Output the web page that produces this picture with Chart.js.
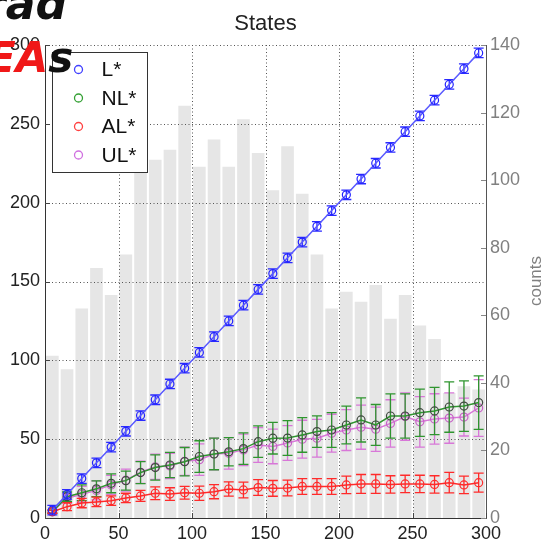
<!DOCTYPE html>
<html>
<head>
<meta charset="utf-8">
<script src="https://cdn.jsdelivr.net/npm/chart.js@4.4.1/dist/chart.umd.min.js"></script>
<style>
  html, body { margin: 0; padding: 0; background: #fff; }
  #wrap { position: relative; width: 544px; height: 542px; overflow: hidden; }
  canvas { display: block; }
  .ink { position: absolute; font-family: "DejaVu Sans", sans-serif; font-weight: bold; font-style: italic; white-space: nowrap; line-height: 1; }
</style>
</head>
<body>
<div id="wrap">
  <canvas id="c" width="544" height="542"></canvas>
  <div class="ink" style="left:-16px; top:-18px; font-size:44px; color:#111;">rad</div>
  <div class="ink" style="left:-13px; top:37px; font-size:42px; color:#f01818;">EA<span style="color:#111;">s</span></div>
</div>
<script>
// Bin centres shared by the histogram and the four state curves
const binCenters = [5, 15, 25, 35, 45, 55, 65, 75, 85, 95, 105, 115, 125, 135, 145,
                    155, 165, 175, 185, 195, 205, 215, 225, 235, 245, 255, 265, 275, 285, 295];

// Histogram counts (right axis)
const counts = [48, 44, 62, 74, 66, 78, 107, 106, 109, 122, 104, 112, 104, 118, 108,
                97, 110, 96, 78, 62, 67, 64, 69, 59, 66, 57, 53, 37, 39, 38];

// State means (left axis)
const L  = [5, 15, 25, 35, 45, 55, 65, 75, 85, 95, 105, 115, 125, 135, 145,
            155, 165, 175, 185, 195, 205, 215, 225, 235, 245, 255, 265, 275, 285, 295];
const NL = [4, 13.5, 16, 18.5, 22, 23.7, 28.8, 32, 33.6, 35.7, 39, 40.6, 42, 44, 48.4,
            50.6, 50.7, 52.7, 54.8, 55.8, 59, 62.2, 59, 64.7, 64.7, 66.8, 67.9, 70.4, 71, 73.2];
const AL = [4, 7.2, 9.5, 10.2, 11, 12.7, 14, 15.7, 15.2, 16, 15.7, 16.7, 18.4, 17.8, 19.3,
            18.8, 19, 20, 20, 20, 21, 21.6, 21.6, 21.3, 21.6, 21.6, 21.3, 22.4, 21, 22.4];
const UL = [4, 12.5, 15, 17.5, 21, 24, 29, 32.5, 33, 36, 37, 40.6, 41, 43.2, 46.3,
            45.4, 47.6, 50, 50.6, 53.8, 55.8, 57.6, 56.3, 60, 64.3, 61, 62.8, 63.4, 64, 69.8];

// Half-widths of the error bars
const L_err  = [3, 3, 3, 3, 3, 3, 3, 3, 3, 3, 3, 3, 3, 3, 3,
                3, 3, 3, 3, 3, 3, 3, 3, 3, 3, 3, 3, 3, 3, 3];
const NL_err = [1, 3, 5, 5, 6, 6, 7, 8, 8, 9, 10, 10, 9, 10, 10,
                10, 11, 11, 10, 11, 12, 14, 13, 14, 14, 15, 15, 16, 16, 17];
const AL_err = [1, 2.5, 3, 3, 3, 3, 3.5, 4, 4, 4, 4.5, 4.5, 4.5, 5, 5,
                5, 5, 5, 5, 5, 5.5, 6, 6, 5.5, 5.5, 5.5, 5.5, 6.5, 5.5, 6];
const UL_err = [1, 3, 5, 6, 6, 7, 7, 8, 8, 9, 10, 10, 10, 10, 11,
                11, 11, 12, 12, 12, 13, 14, 14, 15, 15, 16, 16, 16, 12, 18];

// Axis ticks
const xTicks = [0, 50, 100, 150, 200, 250, 300];
const yTicks = [0, 50, 100, 150, 200, 250, 300];
const countTicks = [0, 20, 40, 60, 80, 100, 120, 140];

const titleText = 'States';
const countsLabel = 'counts';

const pts = vals => vals.map((v, i) => ({ x: binCenters[i], y: v }));

// Dotted grid drawn over the histogram but under the curves
const dottedGrid = {
  id: 'dottedGrid',
  afterDatasetDraw(chart, args) {
    if (args.index !== 0) return;
    const { ctx, chartArea: a, scales: { x, y } } = chart;
    ctx.save();
    ctx.strokeStyle = '#555';
    ctx.lineWidth = 1;
    ctx.setLineDash([1, 2.5]);
    ctx.beginPath();
    x.ticks.forEach(t => {
      if (t.value > x.min && t.value < x.max) {
        const px = Math.round(x.getPixelForValue(t.value)) + 0.5;
        ctx.moveTo(px, a.top); ctx.lineTo(px, a.bottom);
      }
    });
    y.ticks.forEach(t => {
      if (t.value > y.min) {
        const py = Math.round(y.getPixelForValue(t.value)) + 0.5;
        ctx.moveTo(a.left, py); ctx.lineTo(a.right, py);
      }
    });
    ctx.stroke();
    ctx.restore();
  }
};

// Vertical error bars with caps, drawn under each curve's markers
const errorBars = {
  id: 'errorBars',
  beforeDatasetDraw(chart, args) {
    const ds = chart.data.datasets[args.index];
    if (!ds.errors) return;
    const ctx = chart.ctx;
    const ys = chart.scales[ds.yAxisID];
    const xs = chart.scales.x;
    ctx.save();
    ctx.strokeStyle = ds.errorColor;
    ctx.lineWidth = 1.3;
    ctx.beginPath();
    ds.data.forEach((p, i) => {
      const px = xs.getPixelForValue(p.x);
      const top = ys.getPixelForValue(p.y + ds.errors[i]);
      const bot = ys.getPixelForValue(p.y - ds.errors[i]);
      ctx.moveTo(px, top); ctx.lineTo(px, bot);
      ctx.moveTo(px - 5, top); ctx.lineTo(px + 5, top);
      ctx.moveTo(px - 5, bot); ctx.lineTo(px + 5, bot);
    });
    ctx.stroke();
    ctx.restore();
  }
};

// Title, right-axis caption, inward ticks and the boxed legend
const decorations = {
  id: 'decorations',
  afterDraw(chart) {
    const { ctx, chartArea: a, scales: { x, y, y2 } } = chart;
    ctx.save();
    ctx.fillStyle = '#222';
    ctx.font = '22px "Liberation Sans", Arial, sans-serif';
    ctx.textAlign = 'center';
    ctx.textBaseline = 'alphabetic';
    ctx.fillText(titleText, (a.left + a.right) / 2, 30);

    ctx.save();
    ctx.translate(541, 281);
    ctx.rotate(-Math.PI / 2);
    ctx.fillStyle = '#808080';
    ctx.font = '17px "Liberation Sans", Arial, sans-serif';
    ctx.fillText(countsLabel, 0, 0);
    ctx.restore();

    // inward tick marks
    ctx.lineWidth = 1;
    ctx.strokeStyle = '#444';
    ctx.beginPath();
    x.ticks.forEach(t => {
      const px = Math.round(x.getPixelForValue(t.value)) + 0.5;
      ctx.moveTo(px, a.bottom); ctx.lineTo(px, a.bottom - 5);
    });
    y.ticks.forEach(t => {
      const py = Math.round(y.getPixelForValue(t.value)) + 0.5;
      ctx.moveTo(a.left, py); ctx.lineTo(a.left + 5, py);
    });
    ctx.stroke();
    ctx.strokeStyle = '#888';
    ctx.beginPath();
    y2.ticks.forEach(t => {
      const py = Math.round(y2.getPixelForValue(t.value)) + 0.5;
      ctx.moveTo(a.right, py); ctx.lineTo(a.right - 5, py);
    });
    ctx.stroke();

    // legend box
    const bx = a.left + 7.5, by = a.top + 7.5, bw = 95, bh = 120;
    ctx.fillStyle = '#fff';
    ctx.fillRect(bx, by, bw, bh);
    ctx.strokeStyle = '#333';
    ctx.lineWidth = 1;
    ctx.strokeRect(bx, by, bw, bh);
    ctx.font = '21px "Liberation Sans", Arial, sans-serif';
    ctx.textAlign = 'left';
    ctx.textBaseline = 'middle';
    chart.data.datasets.filter(d => d.legendColor).forEach((d, i) => {
      const cy = by + 17 + i * 28.5;
      ctx.beginPath();
      ctx.strokeStyle = d.legendColor;
      ctx.lineWidth = 1.3;
      ctx.arc(bx + 26, cy, 4, 0, Math.PI * 2);
      ctx.stroke();
      ctx.fillStyle = '#111';
      ctx.fillText(d.label, bx + 49, cy + 1);
    });
    ctx.restore();
  }
};

const lineSet = (label, vals, errs, line, marker, err, legend, order) => ({
  type: 'line',
  label,
  data: pts(vals),
  errors: errs,
  errorColor: err,
  legendColor: legend,
  yAxisID: 'y',
  borderColor: line,
  borderWidth: 1.5,
  pointStyle: 'circle',
  pointRadius: 4,
  pointBorderWidth: 1.2,
  pointBorderColor: marker,
  pointBackgroundColor: 'rgba(0,0,0,0)',
  tension: 0,
  order
});

const tickFont = { size: 18, family: '"Liberation Sans", Arial, sans-serif' };

new Chart(document.getElementById('c'), {
  data: {
    datasets: [
      {
        type: 'bar',
        label: 'counts',
        data: pts(counts),
        yAxisID: 'y2',
        backgroundColor: '#e6e6e6',
        borderWidth: 0,
        barPercentage: 0.86,
        categoryPercentage: 1,
        order: 10
      },
      lineSet('L*',  L,  L_err,  '#5a5aff', '#2222ff', '#2a2aff', '#4040ff', 1),
      lineSet('NL*', NL, NL_err, '#2f952f', '#3f4a3f', '#2f952f', '#33a033', 3),
      lineSet('AL*', AL, AL_err, '#ff2a2a', '#ff2a2a', '#ff2a2a', '#ff4040', 2),
      lineSet('UL*', UL, UL_err, '#d877d8', '#c860c8', '#d877d8', '#d070e0', 4)
    ]
  },
  options: {
    responsive: false,
    animation: false,
    devicePixelRatio: 1,
    layout: { padding: { top: 45, left: 0, right: 0, bottom: 0 } },
    plugins: {
      legend: { display: false },
      title: { display: false },
      tooltip: { enabled: false }
    },
    scales: {
      x: {
        type: 'linear',
        min: 0, max: 300,
        offset: false,
        afterBuildTicks: s => { s.ticks = xTicks.map(v => ({ value: v })); },
        afterFit: s => { s.height = 24; },
        grid: { display: false, drawTicks: false },
        border: { display: true, color: '#333', width: 1 },
        ticks: { color: '#222', padding: 5, maxRotation: 0, font: tickFont }
      },
      y: {
        type: 'linear',
        position: 'left',
        min: 0, max: 300,
        afterBuildTicks: s => { s.ticks = yTicks.map(v => ({ value: v })); },
        afterFit: s => { s.width = 45; },
        grid: { display: false, drawTicks: false },
        border: { display: true, color: '#333', width: 1 },
        ticks: { color: '#222', padding: 5, font: tickFont }
      },
      y2: {
        type: 'linear',
        position: 'right',
        min: 0, max: 140,
        afterBuildTicks: s => { s.ticks = countTicks.map(v => ({ value: v })); },
        afterFit: s => { s.width = 58; },
        grid: { display: false, drawTicks: false },
        border: { display: true, color: '#555', width: 1 },
        ticks: { color: '#808080', padding: 4, font: tickFont }
      }
    }
  },
  plugins: [dottedGrid, errorBars, decorations]
});
</script>
</body>
</html>
